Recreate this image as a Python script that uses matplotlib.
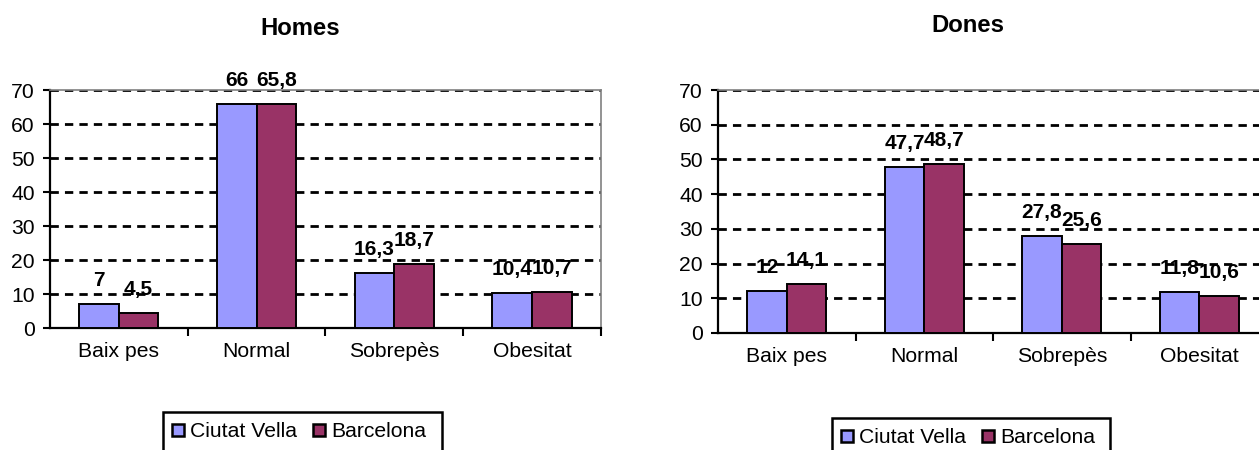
import matplotlib
matplotlib.use("Agg")
import matplotlib.pyplot as plt
from matplotlib.patches import Patch, Rectangle
import numpy as np

# ---- data -------------------------------------------------------------
categories = ["Baix pes", "Normal", "Sobrepès", "Obesitat"]
series_names = ["Ciutat Vella", "Barcelona"]
homes_ciutat_vella = [7, 66, 16.3, 10.4]
homes_barcelona = [4.5, 65.8, 18.7, 10.7]
dones_ciutat_vella = [12, 47.7, 27.8, 11.8]
dones_barcelona = [14.1, 48.7, 25.6, 10.6]
y_ticks = [0, 10, 20, 30, 40, 50, 60, 70]

# ---- style ------------------------------------------------------------
plt.rcParams["font.family"] = ["Liberation Sans", "DejaVu Sans"]
COL_CV = "#9999FF"
COL_BCN = "#993366"
FS = 15.2
FS_LABEL = 15
W, H = 1259, 450

fig = plt.figure(figsize=(W / 100, H / 100), dpi=100)


def px_axes(x0, x1, y_top, y_bottom):
    return fig.add_axes([x0 / W, (H - y_bottom) / H, (x1 - x0) / W, (y_bottom - y_top) / H])


def fmt(v):
    return f"{v:g}".replace(".", ",")


def draw_panel(ax, cv, bcn):
    x = np.arange(len(categories))
    bw = 0.2875
    b1 = ax.bar(x - bw / 2, cv, bw, color=COL_CV, edgecolor="black", linewidth=1.4, zorder=3)
    b2 = ax.bar(x + bw / 2, bcn, bw, color=COL_BCN, edgecolor="black", linewidth=1.4, zorder=3)
    for bars, vals in ((b1, cv), (b2, bcn)):
        for r, v in zip(bars, vals):
            ax.annotate(fmt(v), (r.get_x() + r.get_width() / 2, v),
                        xytext=(0, 13), textcoords="offset points",
                        ha="center", va="baseline", fontsize=FS_LABEL,
                        fontweight="bold", zorder=5)
    ax.set_xlim(-0.5, len(categories) - 0.5)
    ax.set_ylim(0, 70)
    ax.set_yticks(y_ticks)
    ax.set_yticklabels([str(t) for t in y_ticks], fontsize=FS)
    ax.set_xticks(x)
    ax.set_xticklabels(categories, fontsize=FS)
    ax.set_xticks(np.arange(len(categories)) + 0.5, minor=True)
    ax.tick_params(axis="x", which="major", length=0, pad=10)
    ax.tick_params(axis="x", which="minor", length=6, width=1.5, direction="out")
    ax.tick_params(axis="y", length=5, width=1.5, direction="out", pad=6)
    ax.set_axisbelow(True)
    ax.yaxis.grid(True, color="black", linewidth=2.0, linestyle=(0, (3.0, 2.2)), zorder=1)
    for s in ("left", "bottom"):
        ax.spines[s].set_color("black")
        ax.spines[s].set_linewidth(1.6)
    for s in ("top", "right"):
        ax.spines[s].set_color("#808080")
        ax.spines[s].set_linewidth(1.2)
    return b1, b2


ax1 = px_axes(50, 600.8, 90, 328)
draw_panel(ax1, homes_ciutat_vella, homes_barcelona)
ax2 = px_axes(718, 1268, 90, 333)
draw_panel(ax2, dones_ciutat_vella, dones_barcelona)

fig.text(300 / W, 1 - 35 / H, "Homes", ha="center", va="baseline",
         fontsize=17.2, fontweight="bold")
fig.text(967.5 / W, 1 - 32 / H, "Dones", ha="center", va="baseline",
         fontsize=17.2, fontweight="bold")

handles = [Patch(facecolor=COL_CV, edgecolor="black", linewidth=1.8),
           Patch(facecolor=COL_BCN, edgecolor="black", linewidth=1.8)]


def add_legend(x_left, x_right, y_top):
    # frame drawn separately so that it runs past the lower figure edge
    frame = Rectangle((x_left / W, 1 - (y_top + 60) / H), (x_right - x_left) / W, 60 / H,
                      transform=fig.transFigure, facecolor="white", edgecolor="black",
                      linewidth=1.8, clip_on=False, zorder=1)
    fig.patches.append(frame)
    leg = fig.legend(handles, series_names, loc="upper left",
                     bbox_to_anchor=((x_left + 2) / W, 1 - (y_top + 3) / H),
                     ncol=2, fontsize=FS, frameon=False,
                     handlelength=0.55, handleheight=0.55,
                     handletextpad=0.3, columnspacing=0.75, borderpad=0.35,
                     borderaxespad=0)
    leg.set_zorder(2)
    return leg


add_legend(163, 442, 412)
add_legend(832, 1110, 418)

fig.savefig("out.png", dpi=100)
